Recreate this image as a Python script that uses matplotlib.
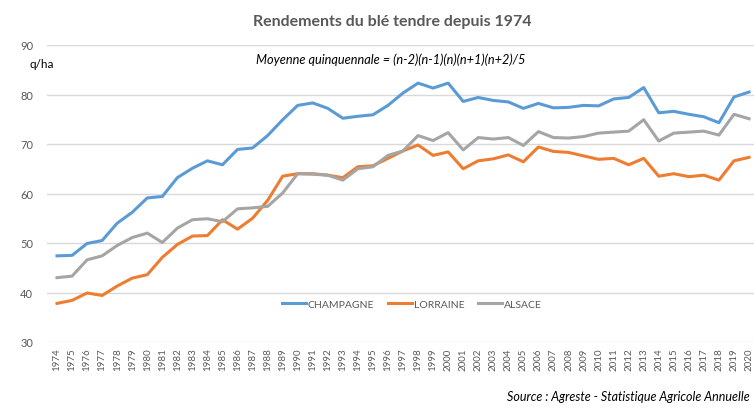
import matplotlib.pyplot as plt

plt.rcParams['font.family'] = ['Lato', 'DejaVu Sans']

years = list(range(1974, 2021))

champagne = [47.4, 47.5, 49.9, 50.5, 54.0, 56.2, 59.1, 59.4, 63.2, 65.1,
             66.6, 65.8, 68.9, 69.2, 71.7, 74.9, 77.8, 78.3, 77.2, 75.2,
             75.6, 75.9, 77.8, 80.3, 82.3, 81.3, 82.3, 78.6, 79.4, 78.8,
             78.5, 77.2, 78.2, 77.3, 77.4, 77.8, 77.7, 79.1, 79.4, 81.4,
             76.3, 76.6, 76.0, 75.5, 74.3, 79.5, 80.5]
lorraine = [37.8, 38.4, 39.9, 39.4, 41.3, 42.9, 43.6, 47.1, 49.7, 51.4,
            51.5, 54.7, 52.8, 55.0, 58.6, 63.5, 64.0, 64.0, 63.7, 63.2,
            65.4, 65.6, 67.1, 68.6, 69.8, 67.7, 68.4, 65.0, 66.6, 67.0,
            67.8, 66.4, 69.4, 68.5, 68.3, 67.6, 66.9, 67.1, 65.8, 67.1,
            63.5, 64.0, 63.4, 63.7, 62.7, 66.6, 67.3]
alsace = [43.0, 43.3, 46.6, 47.4, 49.5, 51.1, 52.0, 50.1, 53.0, 54.7,
          54.9, 54.3, 56.9, 57.1, 57.4, 60.1, 64.0, 63.9, 63.7, 62.7,
          65.0, 65.4, 67.7, 68.6, 71.7, 70.7, 72.3, 68.8, 71.3, 71.0,
          71.3, 69.7, 72.5, 71.3, 71.2, 71.5, 72.2, 72.4, 72.6, 74.9,
          70.6, 72.2, 72.4, 72.6, 71.8, 76.0, 75.1]
yticks = [30, 40, 50, 60, 70, 80, 90]

fig = plt.figure(figsize=(7.54, 4.10), dpi=100)
ax = fig.add_axes([47 / 754, 1 - 343 / 410, 707 / 754, 297 / 410])

x = range(len(years))
ax.plot(x, champagne, color='#5B9BD5', lw=2.2, label='CHAMPAGNE')
ax.plot(x, lorraine, color='#ED7D31', lw=2.2, label='LORRAINE')
ax.plot(x, alsace, color='#A5A5A5', lw=2.2, label='ALSACE')

ax.set_xlim(-0.665, 46.33)
ax.set_ylim(30, 90)
ax.set_yticks(yticks)
ax.set_xticks(list(x))
ax.set_xticklabels([str(y) for y in years], rotation=90, fontsize=7, color='#595959')
ax.tick_params(axis='y', labelsize=8, colors='#595959', length=0, pad=10)
ax.tick_params(axis='x', length=0, pad=4)
ax.grid(axis='y', color='#D9D9D9', lw=1)
ax.set_axisbelow(True)
for s in ax.spines.values():
    s.set_visible(False)

fig.text(392 / 754, 1 - 22 / 410, 'Rendements du blé tendre depuis 1974',
         ha='center', va='center', fontsize=11.5, fontweight='bold', color='#595959')
fig.text(391 / 754, 1 - 60 / 410, 'Moyenne quinquennale = (n-2)(n-1)(n)(n+1)(n+2)/5',
         ha='center', va='center', fontsize=9.2, style='italic', color='black')
fig.text(30 / 754, 1 - 64 / 410, 'q/ha', ha='left', va='center', fontsize=8.5, color='black')
fig.text(750 / 754, 1 - 397 / 410, 'Source : Agreste - Statistique Agricole Annuelle',
         ha='right', va='center', fontsize=9, style='italic', color='black')

fig.legend(loc='center', bbox_to_anchor=(412 / 754, 1 - 305 / 410), ncol=3,
           frameon=False, fontsize=7.5, handlelength=2.3, columnspacing=1.3,
           handletextpad=0.2, labelcolor='#595959')

fig.savefig('out.png', dpi=100)
